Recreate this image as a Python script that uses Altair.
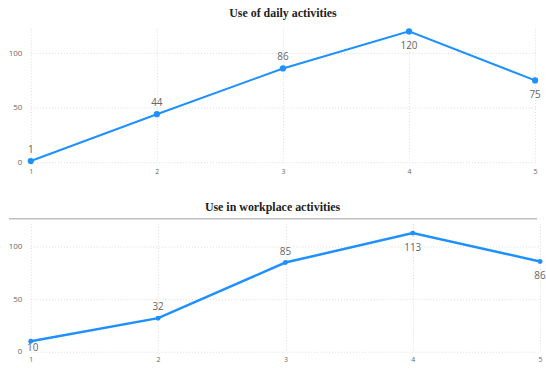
import altair as alt
import pandas as pd

steps = [1, 2, 3, 4, 5]
daily = [1, 44, 86, 120, 75]
workplace = [10, 32, 85, 113, 86]

title_daily = "Use of daily activities"
title_work = "Use in workplace activities"

BLUE = "#1E90FF"
LABEL_FONT = "Open Sans"


def panel(values, title, width, height, ymax, point_size, line_w, above, below, near,
          title_dx, title_offset, xlab_pad, add_rule):
    df = pd.DataFrame({"x": steps, "v": values})
    base = alt.Chart(df).encode(
        x=alt.X("x:Q", scale=alt.Scale(domain=[1, 5], nice=False),
                axis=alt.Axis(values=steps, format="d", title=None, domain=False, ticks=False,
                              labelFont=LABEL_FONT, labelFontSize=7, labelColor="#666",
                              labelPadding=xlab_pad, grid=True, gridColor="#dcdcdc",
                              gridDash=[1, 2], labelFlush=False)),
        y=alt.Y("v:Q", scale=alt.Scale(domain=[0, ymax], nice=False, zero=True),
                axis=alt.Axis(values=[0, 50, 100], title=None, domain=False, ticks=False,
                              labelFont=LABEL_FONT, labelFontSize=8, labelColor="#666",
                              labelPadding=9, grid=True, gridColor="#dcdcdc", gridDash=[1, 2])),
    )
    line = base.mark_line(color=BLUE, strokeWidth=line_w)
    pts = base.mark_point(color=BLUE, filled=True, opacity=1, size=point_size)
    txt_kw = dict(font=LABEL_FONT, fontSize=10, color="#666", baseline="middle", align="center")
    t_above = base.mark_text(dy=-11, **txt_kw).encode(text="v:Q").transform_filter(
        alt.FieldOneOfPredicate(field="x", oneOf=above))
    layers = [line, pts, t_above]
    if below:
        layers.append(base.mark_text(dy=15, **txt_kw).encode(text="v:Q").transform_filter(
            alt.FieldOneOfPredicate(field="x", oneOf=below)))
    if near:
        layers.append(base.mark_text(dy=7, dx=2, **txt_kw).encode(text="v:Q").transform_filter(
            alt.FieldOneOfPredicate(field="x", oneOf=near)))
    if add_rule:
        rule = alt.Chart(pd.DataFrame({"a": [0]})).mark_rule(color="#c0c0c0", strokeWidth=1.5).encode(
            x=alt.value(-22), x2=alt.value(width - 3), y=alt.value(-5))
        layers.append(rule)
    return alt.layer(*layers).properties(
        width=width, height=height,
        title=alt.TitleParams(title, font="Liberation Serif", fontSize=12, fontWeight=600,
                              color="#222", anchor="middle", dx=title_dx, offset=title_offset),
    )


top = panel(daily, title_daily, 508, 135, 123, 40, 2, [1, 2, 3], [4, 5], [], 0, 8, 5, False)
bottom = panel(workplace, title_work, 513, 129, 122, 25, 2.5, [2, 3], [4, 5], [1], -13, 4, 4, True)

chart = alt.vconcat(top, bottom, spacing=27).properties(
    padding={"left": 8, "top": 5, "right": 0, "bottom": 0},
    background="white",
).configure_view(strokeOpacity=0, strokeWidth=0)

chart.save("out.html", embed_options={"renderer": "svg", "actions": False})
